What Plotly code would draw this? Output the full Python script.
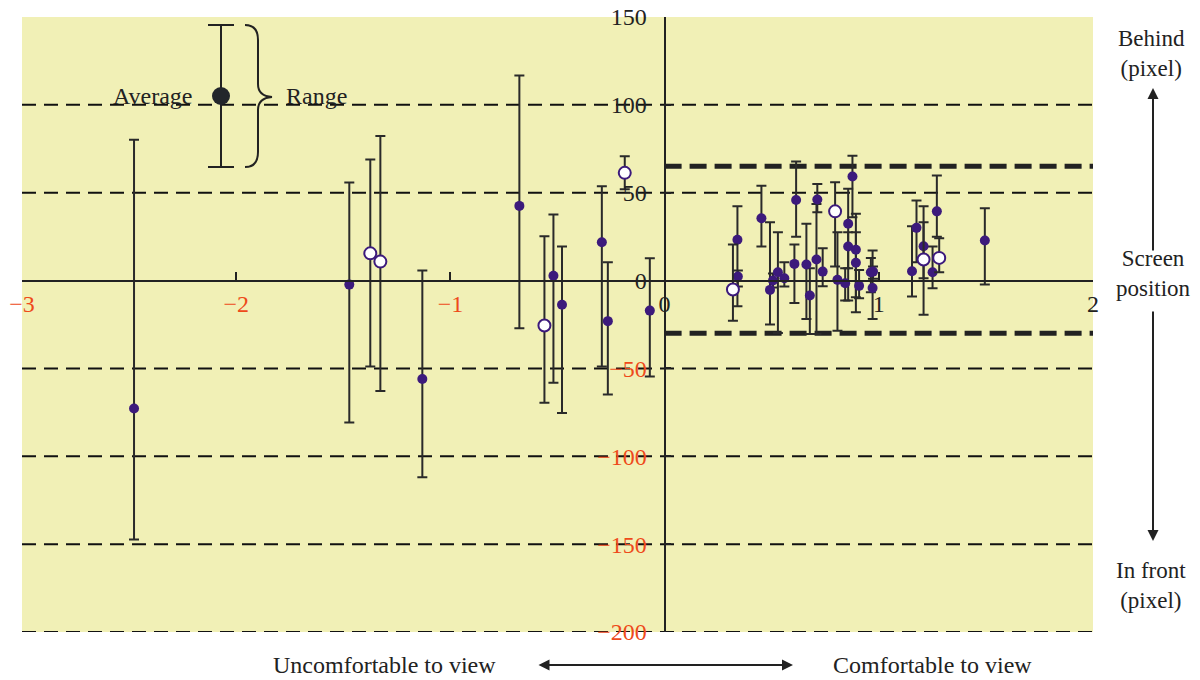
import plotly.graph_objects as go

# ---------------- data ----------------
# filled markers: x position, average, max, min
filled_x = [-2.477, -1.472, -1.131, -0.678, -0.519, -0.479, -0.293, -0.265, -0.069,
            0.340, 0.342, 0.452, 0.492, 0.506, 0.529, 0.559, 0.606, 0.614, 0.662,
            0.678, 0.713, 0.709, 0.738, 0.807, 0.843, 0.857, 0.857, 0.877, 0.893,
            0.893, 0.908, 0.963, 0.971, 0.973, 1.155, 1.176, 1.209, 1.251, 1.271, 1.495]
filled_avg = [-72.8, -2.3, -56.0, 42.5, 2.7, -13.8, 21.8, -23.1, -17.1,
              23.2, 2.3, 35.5, -5.3, 0.0, 4.7, 1.3, 9.5, 45.9, 9.1,
              -8.5, 46.1, 12.0, 5.1, 0.4, -1.5, 32.3, 19.4, 59.2, 17.5,
              10.1, -3.0, 4.7, -4.2, 5.1, 5.3, 30.0, 19.5, 4.7, 39.4, 22.8]
filled_max = [80.2, 55.8, 5.7, 116.7, 37.6, 19.4, 53.7, 10.4, 12.7,
              42.3, 5.7, 53.9, 33.2, 4.0, 27.5, 10.4, 20.5, 67.7, 32.3,
              7.0, 55.0, 43.6, 18.4, 27.5, 7.0, 52.2, 27.5, 71.1, 38.0,
              27.5, 6.0, 12.9, 17.1, 8.0, 30.9, 45.5, 33.2, 19.4, 59.8, 41.2]
filled_min = [-147.4, -80.8, -112.0, -27.1, -58.2, -75.3, -48.9, -64.9, -54.6,
              -14.6, -3.4, 19.4, -25.0, -4.0, -29.8, -3.4, -12.7, 25.0, -21.8,
              -30.4, 38.9, -30.4, -3.2, -28.5, -11.4, -11.4, 7.0, 36.0, -18.0,
              -9.5, -10.0, -6.6, -21.8, 1.0, -9.1, 10.4, 1.3, -4.4, 25.0, -2.3]

# open markers: x position, average, max, min
open_x = [-1.374, -1.327, -0.561, -0.186, 0.319, 0.796, 1.209, 1.282]
open_avg = [15.5, 10.8, -25.6, 61.3, -5.1, 39.4, 12.0, 12.9]
open_max = [68.9, 82.3, 25.2, 70.8, 20.5, 56.0, 42.3, 24.1]
open_min = [-48.9, -62.8, -69.6, 52.0, -22.8, 8.0, -19.4, 4.7]

x_ticks = [-3, -2, -1, 0, 1, 2]
y_ticks = [150, 100, 50, 0, -50, -100, -150, -200]
grid_levels = [100, 50, -50, -100, -150, -200]
comfort_bounds = [65, -30]

# ---------------- style ----------------
# the page body margin is removed after plotting, so the figure fills the window
OFF = 0
W, H = 1200 - OFF, 680 - OFF
ML, MT = 22 - OFF, 17 - OFF
PW, PH = 1071, 615
MR, MB = W - ML - PW, H - MT - PH
SERIF = "Liberation Serif, Times New Roman, serif"
INK = "#222222"
NEG = "#EE4A1A"
PURPLE = "#3C1A7C"
BG = "#F1F0B6"


def PX(x):
    # window pixel -> paper fraction
    return (x - OFF - ML) / PW


def PY(y):
    return (MT + PH - (y - OFF)) / PH


def fmt(v):
    s = str(abs(v))
    if v < 0:
        return '<span style="color:%s">\u2212%s</span>' % (NEG, s)
    return s


def err(avg, mx, mn):
    return dict(type="data", symmetric=False,
                array=[a - b for a, b in zip(mx, avg)],
                arrayminus=[b - c for b, c in zip(avg, mn)],
                color="#2A2A2A", thickness=2, width=5)


fig = go.Figure()
fig.add_trace(go.Scatter(
    x=filled_x, y=filled_avg, mode="markers",
    marker=dict(size=10, color=PURPLE, line=dict(width=0)),
    error_y=err(filled_avg, filled_max, filled_min), showlegend=False))
fig.add_trace(go.Scatter(
    x=open_x, y=open_avg, mode="markers",
    marker=dict(size=12, color="white", line=dict(width=2, color=PURPLE)),
    error_y=err(open_avg, open_max, open_min), showlegend=False))

shapes = []
for g in grid_levels:
    shapes.append(dict(type="line", xref="x", yref="y", x0=-3, x1=2, y0=g, y1=g,
                       line=dict(color="#111111", width=2, dash="14px,8px"),
                       layer="below"))
for b in comfort_bounds:
    shapes.append(dict(type="line", xref="x", yref="y", x0=0, x1=2, y0=b, y1=b,
                       line=dict(color="#222222", width=5, dash="17px,8px"),
                       layer="below"))

# legend key (window pixel layout): error bar, dot and brace
kx, ktop, kbot, kmid = 221, 25, 167, 96
shapes.append(dict(type="line", xref="paper", yref="paper",
                   x0=PX(kx), x1=PX(kx), y0=PY(ktop), y1=PY(kbot),
                   line=dict(color=INK, width=2)))
for yy in (ktop, kbot):
    shapes.append(dict(type="line", xref="paper", yref="paper",
                       x0=PX(kx - 13), x1=PX(kx + 13), y0=PY(yy), y1=PY(yy),
                       line=dict(color=INK, width=2)))
shapes.append(dict(type="circle", xref="paper", yref="paper",
                   x0=PX(kx - 9), x1=PX(kx + 9), y0=PY(kmid - 9), y1=PY(kmid + 9),
                   fillcolor="#23262B", line=dict(width=0)))
brace = [("M", 245, 25), ("Q", 258, 25, 258, 40), ("L", 258, 84),
         ("Q", 258, 96, 272, 97), ("Q", 258, 98, 258, 110), ("L", 258, 152),
         ("Q", 258, 167, 245, 167)]
path = ""
for seg in brace:
    cmd = seg[0]
    pts = seg[1:]
    coords = []
    for i in range(0, len(pts), 2):
        coords.append("%.5f,%.5f" % (PX(pts[i]), PY(pts[i + 1])))
    path += cmd + " " + " ".join(coords) + " "
shapes.append(dict(type="path", xref="paper", yref="paper", path=path.strip(),
                   line=dict(color=INK, width=2)))

annotations = []


def txt(t, x, y, size=22):
    annotations.append(dict(text=t, x=PX(x), y=PY(y), xref="paper", yref="paper",
                            showarrow=False, xanchor="center", yanchor="middle",
                            font=dict(family=SERIF, size=size, color=INK)))


def arrow(hx, hy, tx, ty, both=False):
    annotations.append(dict(text="", x=PX(hx), y=PY(hy), xref="paper", yref="paper",
                            ax=tx - hx, ay=ty - hy, showarrow=True,
                            arrowhead=2, arrowsize=1.1, arrowwidth=2,
                            arrowcolor=INK,
                            arrowside="end+start" if both else "end"))


txt("Average", 153, 96, 24)
txt("Range", 316, 96, 24)
txt("Behind<br>(pixel)", 1151, 53, 23)
txt("Screen<br>position", 1153, 273, 23)
txt("In front<br>(pixel)", 1151, 585, 23)
txt("Uncomfortable to view", 384, 665, 24)
txt("Comfortable to view", 932, 665, 24)
arrow(1153, 88, 1153, 252)
arrow(1153, 541, 1153, 310)
arrow(793, 665, 537, 665, both=True)

fig.update_layout(
    width=W, height=H,
    margin=dict(l=ML, r=MR, t=MT, b=MB, pad=0, autoexpand=False),
    paper_bgcolor="white", plot_bgcolor=BG,
    shapes=shapes, annotations=annotations,
    xaxis=dict(range=[-3, 2], anchor="free", position=4 / 7, automargin=False,
               showgrid=False, zeroline=False, showline=True,
               linecolor=INK, linewidth=2,
               ticks="inside", ticklen=8, tickwidth=2, tickcolor=INK,
               tickvals=x_ticks, ticktext=[fmt(v) for v in x_ticks],
               tickfont=dict(family=SERIF, size=24, color=INK),
               ticklabelstandoff=2, ticklabeloverflow="allow"),
    yaxis=dict(range=[-200, 150], anchor="free", position=0.6, automargin=False,
               showgrid=False, zeroline=False, showline=True,
               linecolor=INK, linewidth=2,
               ticks="inside", ticklen=5, tickwidth=2, tickcolor=INK,
               tickvals=y_ticks, ticktext=[fmt(v) for v in y_ticks],
               tickfont=dict(family=SERIF, size=24, color=INK),
               ticklabelstandoff=12, ticklabeloverflow="allow"),
)

fig.write_html("out.html",
               config={"displayModeBar": False},
               post_script="document.body.style.margin='0px';"
                           "document.body.style.overflow='hidden';")
